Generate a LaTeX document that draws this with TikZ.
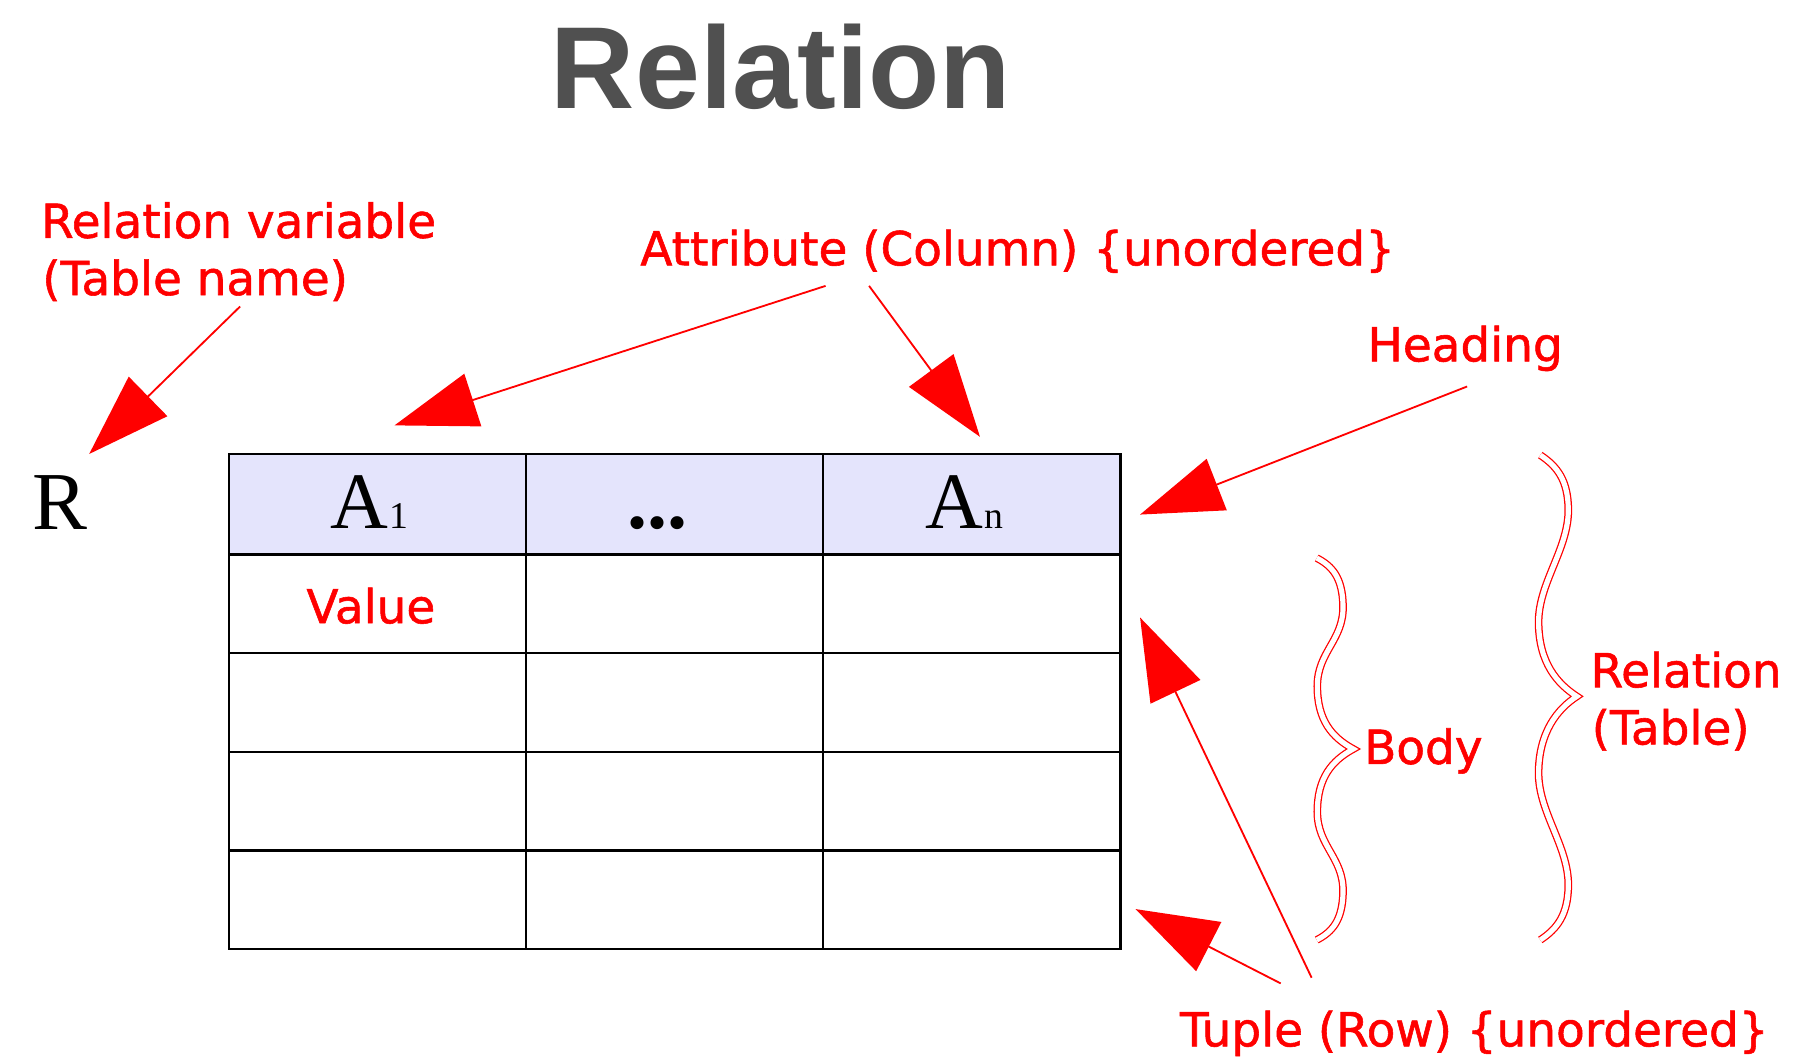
\documentclass[tikz,border=0pt]{standalone}
\usepackage{fontspec}
\usetikzlibrary{arrows.meta}
\newfontfamily\lblfont[FakeBold=1.2]{DejaVu Sans}
\newfontfamily\serfont{Liberation Serif}
\newfontfamily\ttlfont{Liberation Sans}
\definecolor{hdrfill}{RGB}{228,228,252}
\definecolor{ttlgray}{RGB}{80,80,80}
\definecolor{lblred}{RGB}{255,0,0}
\begin{document}
\begin{tikzpicture}[x=1pt,y=-1pt,
  lbl/.style={anchor=base west, inner sep=0pt, outer sep=0pt, text=lblred, font=\lblfont\fontsize{41}{49}\selectfont},
  cellbox/.style={draw=black, line width=2pt, minimum width=260pt, minimum height=86.25pt, inner sep=0pt, outer sep=0pt},
  hdrbox/.style={cellbox, fill=hdrfill, minimum height=88pt},
  sertxt/.style={anchor=base west, inner sep=0pt, outer sep=0pt, font=\serfont\fontsize{70}{80}\selectfont},
  ptr/.style={draw=lblred, line width=1.6pt, -{Triangle[length=72pt,width=48pt]}},
  brc/.style={draw=lblred, line width=1.1pt, double=white, double distance=4.5pt}
]
\fill[white] (0,0) rectangle (1568,926);
\useasboundingbox (0,0) rectangle (1568,926);

% title
\node[anchor=base, inner sep=0pt, text=ttlgray, font=\ttlfont\bfseries\fontsize{102}{110}\selectfont] (title) at (683,95) {Relation};

% table
\node[hdrbox] (h1) at (330,441) {};
\node[hdrbox] (h2) at (590,441) {};
\node[hdrbox] (h3) at (850,441) {};
\foreach \r/\y in {1/528.1,2/614.4,3/700.6,4/786.9}{
  \node[cellbox] (c\r a) at (330,\y) {};
  \node[cellbox] (c\r b) at (590,\y) {};
  \node[cellbox] (c\r c) at (850,\y) {};
}
\node[sertxt] (hA1) at (289,462) {A\kern1.5pt{\fontsize{33}{33}\selectfont 1}};
\node[sertxt, font=\serfont\bfseries\fontsize{70}{80}\selectfont] (hdots) at (549,462) {...};
\node[sertxt] (hAn) at (809,462) {A\kern1pt{\fontsize{33}{33}\selectfont n}};
\node[sertxt, font=\serfont\fontsize{72}{80}\selectfont] (rname) at (28,463) {R};

% labels
\node[lbl] (relvar) at (36,208) {Relation variable};
\node[lbl] (relvar2) at (37,258) {(Table name)};
\node[lbl] (attr) at (560,232) {Attribute (Column) \{unordered\}};
\node[lbl] (heading) at (1196,316) {Heading};
\node[lbl] (value) at (268,545) {Value};
\node[lbl] (body) at (1193,668) {Body};
\node[lbl] (rel1) at (1391,601) {Relation};
\node[lbl] (rel2) at (1392,651) {(Table)};
\node[lbl] (tuple) at (1032,915) {Tuple (Row) \{unordered\}};

% arrow end points
\coordinate (relvarS) at (210,268);
\coordinate (relvarT) at (78,397);
\coordinate (attrS1) at (722,250);
\coordinate (attrT1) at (345,372);
\coordinate (attrS2) at (760,250);
\coordinate (attrT2) at (857,382);
\coordinate (headS) at (1283,338);
\coordinate (headT) at (997,450);
\coordinate (tupS1) at (1147,855);
\coordinate (tupT1) at (997,540);
\coordinate (tupS2) at (1120,860);
\coordinate (tupT2) at (993,795);

\draw[ptr] (relvarS) -- (relvarT);
\draw[ptr] (attrS1) -- (attrT1);
\draw[ptr] (attrS2) -- (attrT2);
\draw[ptr] (headS) -- (headT);
\draw[ptr] (tupS1) -- (tupT1);
\draw[ptr] (tupS2) -- (tupT2);

% braces
\draw[brc] (1151.5,488) .. controls (1165,495) and (1174,505) .. (1174.5,530)
  .. controls (1175,560) and (1152,570) .. (1152,600)
  .. controls (1152,630) and (1165,645) .. (1183.5,655)
  .. controls (1165,665) and (1152,680) .. (1152,710)
  .. controls (1152,740) and (1175,750) .. (1174.5,780)
  .. controls (1174,805) and (1165,815) .. (1151.5,822);
\draw[brc] (1347,398) .. controls (1362,408) and (1371,420) .. (1371.5,445)
  .. controls (1372,480) and (1345,510) .. (1345.5,545)
  .. controls (1346,580) and (1362,598) .. (1379,609)
  .. controls (1362,620) and (1346,640) .. (1345.5,675)
  .. controls (1345,710) and (1372,740) .. (1371.5,775)
  .. controls (1371,800) and (1362,812) .. (1347,822);
\end{tikzpicture}
\end{document}
